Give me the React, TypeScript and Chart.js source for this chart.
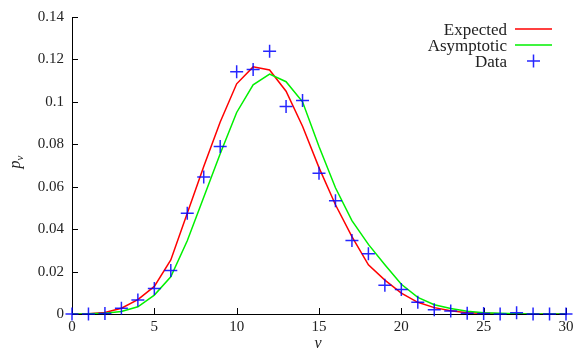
import React, { useEffect, useRef } from "react";
import { Chart, registerables } from "chart.js";

Chart.register(...registerables);

const nu = [0, 1, 2, 3, 4, 5, 6, 7, 8, 9, 10, 11, 12, 13, 14, 15, 16, 17, 18, 19, 20, 21, 22, 23, 24, 25, 26, 27, 28, 29, 30];

const expected = [0, 0.0001, 0.0007, 0.0027, 0.0068, 0.013, 0.0255, 0.0475, 0.0695, 0.0905, 0.1085, 0.1165, 0.115, 0.105, 0.0885, 0.069, 0.0515, 0.0365, 0.0232, 0.016, 0.0098, 0.0055, 0.003, 0.0015, 0.0006, 0.0003, 0.0001, 0, 0, 0, 0];

const asymptotic = [0, 0.0001, 0.0004, 0.0012, 0.0034, 0.0089, 0.0175, 0.0345, 0.055, 0.0755, 0.095, 0.108, 0.1131, 0.1095, 0.1, 0.079, 0.0595, 0.044, 0.0328, 0.0232, 0.014, 0.0078, 0.0044, 0.0026, 0.0013, 0.0006, 0.0003, 0.0001, 0, 0, 0];

const observed = [0, 0, 0.0002, 0.0027, 0.0066, 0.012, 0.0205, 0.0475, 0.0646, 0.079, 0.1142, 0.1152, 0.1239, 0.0978, 0.1006, 0.0663, 0.0534, 0.0346, 0.0284, 0.0136, 0.0116, 0.0055, 0.002, 0.0014, 0.0003, 0.0002, 0, 0.0006, 0, 0, 0];

const xTicks = [0, 5, 10, 15, 20, 25, 30];
const yTicks = [0, 0.02, 0.04, 0.06, 0.08, 0.1, 0.12, 0.14];
const seriesNames = ["Expected", "Asymptotic", "Data"];
const xTitle = "ν";
const yTitleMain = "p";
const yTitleSub = "ν";

const FONT = "'Liberation Serif', serif";
const RED = "#ff0000";
const GREEN = "#00f000";
const BLUE = "rgba(0,0,255,0.85)";

const decor = {
  id: "decor",
  beforeDatasetsDraw(chart: any) {
    const ctx = chart.ctx;
    const { left, bottom } = chart.chartArea;
    const xs = chart.scales.x;
    const ys = chart.scales.y;
    ctx.save();
    ctx.strokeStyle = "#000";
    ctx.lineWidth = 1;
    ctx.beginPath();
    for (const t of xTicks) {
      const px = Math.round(xs.getPixelForValue(t)) + 0.5;
      ctx.moveTo(px, bottom);
      ctx.lineTo(px, bottom - 6);
    }
    for (const t of yTicks) {
      const py = Math.round(ys.getPixelForValue(t)) + 0.5;
      ctx.moveTo(left, py);
      ctx.lineTo(left + 6, py);
    }
    ctx.stroke();
    ctx.restore();
  },
  afterDraw(chart: any) {
    const ctx = chart.ctx;
    ctx.save();
    // legend
    const textRight = 507;
    const lineX0 = 515;
    const lineX1 = 552;
    const baselines = [34.5, 50.5, 66.5];
    ctx.font = `17px ${FONT}`;
    ctx.fillStyle = "#222";
    ctx.textAlign = "right";
    ctx.textBaseline = "alphabetic";
    seriesNames.forEach((name, i) => {
      ctx.fillText(name, textRight, baselines[i]);
    });
    ctx.lineWidth = 1.5;
    ctx.strokeStyle = RED;
    ctx.beginPath();
    ctx.moveTo(lineX0, baselines[0] - 5.5);
    ctx.lineTo(lineX1, baselines[0] - 5.5);
    ctx.stroke();
    ctx.strokeStyle = GREEN;
    ctx.beginPath();
    ctx.moveTo(lineX0, baselines[1] - 5.5);
    ctx.lineTo(lineX1, baselines[1] - 5.5);
    ctx.stroke();
    ctx.strokeStyle = BLUE;
    const cx = (lineX0 + lineX1) / 2;
    const cy = baselines[2] - 5.5;
    ctx.beginPath();
    ctx.moveTo(cx - 6.5, cy);
    ctx.lineTo(cx + 6.5, cy);
    ctx.moveTo(cx, cy - 6.5);
    ctx.lineTo(cx, cy + 6.5);
    ctx.stroke();

    // x title
    ctx.fillStyle = "#222";
    ctx.textAlign = "center";
    ctx.textBaseline = "middle";
    ctx.font = `italic 16px ${FONT}`;
    ctx.fillText(xTitle, 318, 344);

    // y title
    ctx.translate(16, 162);
    ctx.rotate(-Math.PI / 2);
    ctx.textAlign = "left";
    ctx.textBaseline = "alphabetic";
    ctx.font = `italic 16px ${FONT}`;
    const w = ctx.measureText(yTitleMain).width;
    ctx.font = `italic 11px ${FONT}`;
    const ws = ctx.measureText(yTitleSub).width;
    const start = -(w + ws) / 2;
    ctx.font = `italic 16px ${FONT}`;
    ctx.fillText(yTitleMain, start, 4);
    ctx.font = `italic 11px ${FONT}`;
    ctx.fillText(yTitleSub, start + w, 7);
    ctx.restore();
  },
};

export default function App() {
  const ref = useRef<HTMLCanvasElement | null>(null);

  useEffect(() => {
    if (!ref.current) return;
    const toPts = (arr: number[]) => nu.map((x, i) => ({ x, y: arr[i] }));
    const chart = new Chart(ref.current, {
      type: "scatter",
      data: {
        datasets: [
          {
            label: seriesNames[2],
            data: toPts(observed),
            showLine: false,
            pointStyle: "cross",
            pointRadius: 6.5,
            pointBorderWidth: 1.5,
            pointBorderColor: BLUE,
            pointBackgroundColor: BLUE,
            clip: false,
            order: 0,
          } as any,
          {
            label: seriesNames[1],
            data: toPts(asymptotic),
            showLine: true,
            borderColor: GREEN,
            borderWidth: 1.5,
            pointRadius: 0,
            tension: 0,
            order: 1,
          },
          {
            label: seriesNames[0],
            data: toPts(expected),
            showLine: true,
            borderColor: RED,
            borderWidth: 1.5,
            pointRadius: 0,
            tension: 0,
            order: 2,
          },
        ],
      },
      options: {
        animation: false,
        responsive: false,
        maintainAspectRatio: false,
        layout: { padding: { top: 15, right: 12, left: 0, bottom: 0 } },
        plugins: {
          legend: { display: false },
          tooltip: { enabled: false },
        },
        events: [],
        scales: {
          x: {
            type: "linear",
            min: 0,
            max: 30,
            ticks: {
              stepSize: 5,
              color: "#222",
              font: { family: FONT, size: 15 },
              padding: 4,
              maxRotation: 0,
              callback: (v: any) => String(v),
            },
            grid: { display: false, drawTicks: false },
            border: { display: true, color: "#000", width: 1 },
            afterFit: (s: any) => {
              s.height = 36;
            },
          },
          y: {
            type: "linear",
            min: 0,
            max: 0.14,
            ticks: {
              stepSize: 0.02,
              color: "#222",
              font: { family: FONT, size: 15 },
              padding: 8,
              callback: (v: any) => String(parseFloat(Number(v).toFixed(4))),
            },
            grid: { display: false, drawTicks: false },
            border: { display: true, color: "#000", width: 1 },
            afterFit: (s: any) => {
              s.width = 72;
            },
          },
        },
      },
      plugins: [decor],
    });
    return () => chart.destroy();
  }, []);

  return (
    <div style={{ position: "absolute", left: 0, top: 0, width: 578, height: 350 }}>
      <canvas ref={ref} width={578} height={350} style={{ display: "block" }} />
    </div>
  );
}
